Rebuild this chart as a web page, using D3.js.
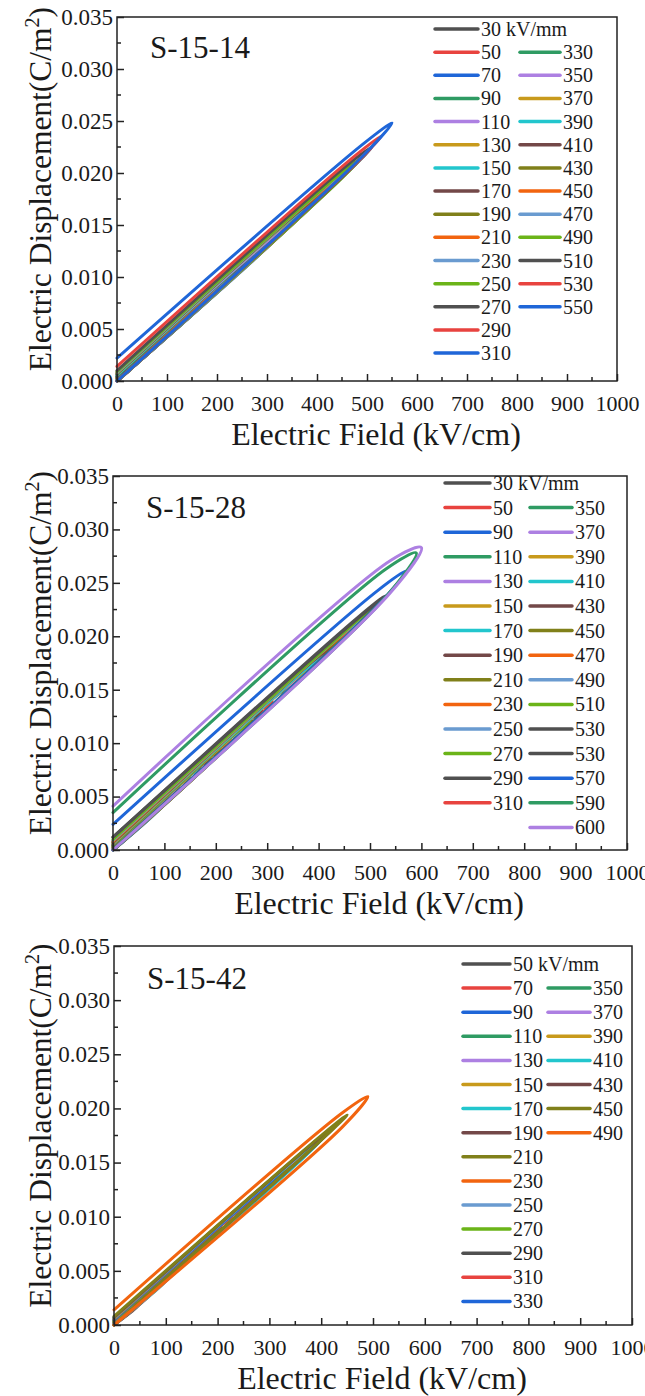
<!DOCTYPE html>
<html>
<head>
<meta charset="utf-8">
<script src="https://cdn.jsdelivr.net/npm/d3@7"></script>
<style>
  body { margin: 0; background: #fff; }
  svg { display: block; }
  svg text { font-family: "Liberation Serif", "Times New Roman", serif; fill: #1a1a1a; }
</style>
</head>
<body>
<svg id="chart" width="645" height="1396"></svg>
<script>
// ---------- data: unipolar D–E loops, one per applied field ----------
// Each loop: charging branch from (0,0) to the tip (Emax, dMax),
// discharging branch back to (0, dRem). dLow / dUp are the charging and
// discharging branches at 90 % of Emax.

// S-15-14
const fields1 = [30,50,70,90,110,130,150,170,190,210,230,250,270,290,310,330,350,370,390,410,430,450,470,490,510,530,550];
const dMax1 = [0.0013,0.0021,0.0030,0.0039,0.0047,0.0056,0.0065,0.0073,0.0082,0.0091,0.0099,0.0108,0.0117,0.0126,0.0134,0.0143,0.0152,0.0161,0.0170,0.0179,0.0188,0.0197,0.0206,0.0215,0.0225,0.0236,0.0248];
const dRem1 = [0.0000,0.0001,0.0001,0.0001,0.0002,0.0002,0.0002,0.0003,0.0003,0.0003,0.0004,0.0004,0.0004,0.0005,0.0005,0.0005,0.0006,0.0006,0.0006,0.0007,0.0007,0.0008,0.0008,0.0009,0.0010,0.0014,0.0022];
const dLow1 = [0.0011,0.0019,0.0027,0.0035,0.0042,0.0050,0.0058,0.0065,0.0073,0.0081,0.0088,0.0096,0.0104,0.0112,0.0119,0.0127,0.0135,0.0143,0.0151,0.0159,0.0167,0.0175,0.0183,0.0191,0.0200,0.0209,0.0218];
const dUp1 = [0.0012,0.0020,0.0028,0.0037,0.0045,0.0053,0.0062,0.0069,0.0077,0.0085,0.0093,0.0101,0.0109,0.0117,0.0124,0.0132,0.0140,0.0149,0.0157,0.0165,0.0173,0.0181,0.0189,0.0197,0.0207,0.0217,0.0229];

// S-15-28
const fields2 = [30,50,90,110,130,150,170,190,210,230,250,270,290,310,350,370,390,410,430,450,470,490,510,530,530,570,590,600];
const dMax2 = [0.0013,0.0022,0.0040,0.0049,0.0058,0.0067,0.0076,0.0085,0.0094,0.0103,0.0112,0.0121,0.0130,0.0139,0.0156,0.0165,0.0174,0.0183,0.0192,0.0201,0.0210,0.0219,0.0228,0.0237,0.0238,0.0261,0.0278,0.0283];
const dRem2 = [0.0000,0.0001,0.0001,0.0002,0.0002,0.0002,0.0003,0.0003,0.0003,0.0004,0.0004,0.0004,0.0005,0.0005,0.0005,0.0006,0.0006,0.0007,0.0007,0.0008,0.0008,0.0009,0.0010,0.0012,0.0012,0.0024,0.0035,0.0041];
const dLow2 = [0.0011,0.0019,0.0034,0.0042,0.0050,0.0058,0.0066,0.0074,0.0082,0.0090,0.0098,0.0106,0.0114,0.0122,0.0138,0.0146,0.0154,0.0162,0.0170,0.0178,0.0186,0.0194,0.0202,0.0210,0.0211,0.0228,0.0237,0.0241];
const dUp2 = [0.0012,0.0021,0.0038,0.0046,0.0054,0.0063,0.0071,0.0079,0.0087,0.0095,0.0103,0.0111,0.0120,0.0128,0.0143,0.0151,0.0159,0.0167,0.0176,0.0184,0.0192,0.0200,0.0208,0.0217,0.0218,0.0242,0.0263,0.0271];

// S-15-42
const fields3 = [50,70,90,110,130,150,170,190,210,230,250,270,290,310,330,350,370,390,410,430,450,490];
const dMax3 = [0.0021,0.0030,0.0039,0.0047,0.0056,0.0065,0.0073,0.0082,0.0090,0.0099,0.0108,0.0116,0.0125,0.0133,0.0142,0.0151,0.0159,0.0168,0.0176,0.0185,0.0194,0.0211];
const dRem3 = [0.0001,0.0001,0.0001,0.0002,0.0002,0.0002,0.0003,0.0003,0.0003,0.0004,0.0004,0.0004,0.0005,0.0005,0.0005,0.0006,0.0006,0.0006,0.0007,0.0007,0.0008,0.0014];
const dLow3 = [0.0017,0.0025,0.0033,0.0040,0.0048,0.0057,0.0064,0.0072,0.0079,0.0087,0.0095,0.0102,0.0110,0.0118,0.0126,0.0134,0.0141,0.0149,0.0156,0.0165,0.0173,0.0183];
const dUp3 = [0.0020,0.0029,0.0037,0.0045,0.0053,0.0061,0.0068,0.0076,0.0083,0.0092,0.0100,0.0107,0.0115,0.0122,0.0130,0.0139,0.0146,0.0154,0.0161,0.0169,0.0177,0.0196];

// axis ticks
const xTicks = [0,100,200,300,400,500,600,700,800,900,1000];
const yTicks = [0,0.005,0.010,0.015,0.020,0.025,0.030,0.035];

// ---------- styles ----------
const FONT = '"Liberation Serif", "Times New Roman", serif';
const palette = ["#505050","#e8433f","#1f66d8","#2f9b63","#ad80e2","#c89a1c","#22c6cd","#734848","#80801a","#f2640f","#6a9bd0","#6bb418"];
const slots1 = fields1.map((d, i) => i % 12);
const slots2 = [0,1,2,3,4,5,6,7,8,9,10,11,0,1,3,4,5,6,7,8,9,10,11,0,0,2,3,4];
const slots3 = fields3.map((d, i) => i % 12);

const panels = [
  { name: "S-15-14", fields: fields1, dMax: dMax1, dRem: dRem1, dLow: dLow1, dUp: dUp1, slots: slots1,
    box: { l: 117, r: 617, t: 17, b: 381 }, titleY: 58,
    legend: { y0: 29, dy: 23.15, leftCount: 15, lx: [435, 478], rx: [520, 560] } },
  { name: "S-15-28", fields: fields2, dMax: dMax2, dRem: dRem2, dLow: dLow2, dUp: dUp2, slots: slots2,
    box: { l: 113, r: 627, t: 476, b: 850 }, titleY: 518,
    legend: { y0: 483, dy: 24.6, leftCount: 14, lx: [445, 490], rx: [530, 572] } },
  { name: "S-15-42", fields: fields3, dMax: dMax3, dRem: dRem3, dLow: dLow3, dUp: dUp3, slots: slots3,
    box: { l: 114, r: 632, t: 946, b: 1325 }, titleY: 989,
    legend: { y0: 964, dy: 24.1, leftCount: 15, lx: [463, 510], rx: [548, 590] } }
];

const svg = d3.select("#chart");

panels.forEach(p => {
  const { l, r, t, b } = p.box;
  const x = d3.scaleLinear().domain([0, 1000]).range([l, r]);
  const y = d3.scaleLinear().domain([0, 0.035]).range([b, t]);
  const g = svg.append("g").style("font-family", FONT);

  // loops
  const line = d3.line()
    .x(d => x(d[0])).y(d => y(d[1]))
    .curve(d3.curveCatmullRom.alpha(0.5));
  const loops = p.fields.map((e, i) => ({
    color: palette[p.slots[i]],
    pts: [[0, 0], [0.9 * e, p.dLow[i]], [e, p.dMax[i]], [0.9 * e, p.dUp[i]], [0, p.dRem[i]]]
  }));
  g.append("g").selectAll("path").data(loops).join("path")
    .attr("d", d => line(d.pts))
    .attr("fill", "none")
    .attr("stroke", d => d.color)
    .attr("stroke-width", 3)
    .attr("stroke-linejoin", "round")
    .attr("stroke-linecap", "round");

  // frame
  g.append("rect")
    .attr("x", l).attr("y", t).attr("width", r - l).attr("height", b - t)
    .attr("fill", "none").attr("stroke", "#222").attr("stroke-width", 1.5);

  // x axis (inward ticks)
  const xAxis = g.append("g").attr("transform", `translate(0,${b})`)
    .call(d3.axisBottom(x).tickValues(xTicks).tickSize(-7).tickPadding(14).tickFormat(d3.format("d")));
  xAxis.attr("font-family", null).style("font-family", FONT);
  xAxis.select(".domain").remove();
  xAxis.selectAll(".tick line").attr("stroke", "#222").attr("stroke-width", 1.5);
  xAxis.selectAll("text").attr("font-size", 22).attr("fill", "#1a1a1a");
  const xMinor = d3.range(50, 1000, 100);
  g.append("g").selectAll("line").data(xMinor).join("line")
    .attr("x1", d => x(d)).attr("x2", d => x(d))
    .attr("y1", b).attr("y2", b - 4)
    .attr("stroke", "#222").attr("stroke-width", 1.5);

  // y axis (inward ticks)
  const yAxis = g.append("g").attr("transform", `translate(${l},0)`)
    .call(d3.axisLeft(y).tickValues(yTicks).tickSize(-7).tickPadding(4).tickFormat(d3.format(".3f")));
  yAxis.attr("font-family", null).style("font-family", FONT);
  yAxis.select(".domain").remove();
  yAxis.selectAll(".tick line").attr("stroke", "#222").attr("stroke-width", 1.5);
  yAxis.selectAll("text").attr("font-size", 23).attr("fill", "#1a1a1a");
  const yMinor = d3.range(0.0025, 0.035, 0.005);
  g.append("g").selectAll("line").data(yMinor).join("line")
    .attr("x1", l).attr("x2", l + 4)
    .attr("y1", d => y(d)).attr("y2", d => y(d))
    .attr("stroke", "#222").attr("stroke-width", 1.5);

  // axis titles
  g.append("text")
    .attr("x", (l + r) / 2 + 9).attr("y", b + 64)
    .attr("text-anchor", "middle").attr("font-size", 32)
    .text("Electric Field (kV/cm)");
  const yt = g.append("text")
    .attr("transform", `translate(51,${(t + b) / 2 - 10}) rotate(-90)`)
    .attr("text-anchor", "middle").attr("font-size", 31.5);
  yt.append("tspan").text("Electric Displacement(C/m");
  yt.append("tspan").attr("font-size", 20).attr("dy", -12).text("2");
  yt.append("tspan").attr("dy", 12).text(")");

  // panel title
  g.append("text").attr("x", l + 33).attr("y", p.titleY)
    .attr("font-size", 31).text(p.name);

  // legend
  const L = p.legend;
  const items = p.fields.map((f, i) => {
    const left = i < L.leftCount;
    const row = left ? i : i - L.leftCount + 1;
    return { label: i === 0 ? `${f} kV/mm` : `${f}`, color: palette[p.slots[i]],
             xs: left ? L.lx : L.rx, y: L.y0 + row * L.dy };
  });
  const lg = g.append("g").selectAll("g").data(items).join("g");
  lg.append("line")
    .attr("x1", d => d.xs[0]).attr("x2", d => d.xs[1])
    .attr("y1", d => d.y).attr("y2", d => d.y)
    .attr("stroke", d => d.color).attr("stroke-width", 3.5).attr("stroke-linecap", "round");
  lg.append("text")
    .attr("x", d => d.xs[1] + 3).attr("y", d => d.y + 7)
    .attr("font-size", 20).text(d => d.label);
});
</script>
</body>
</html>
